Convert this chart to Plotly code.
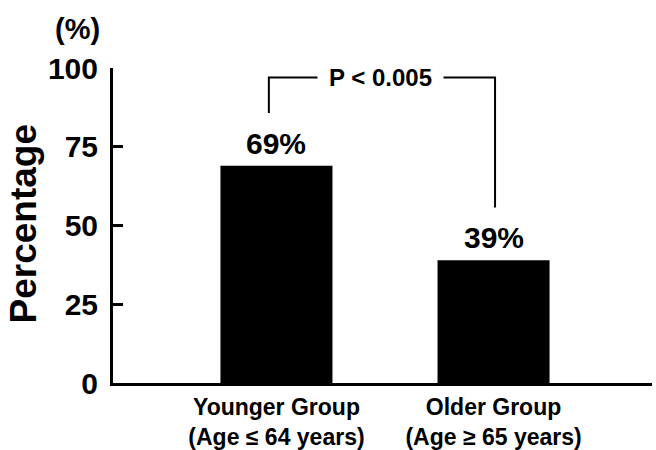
import plotly.graph_objects as go

categories = ["Younger Group<br>(Age ≤ 64 years)", "Older Group<br>(Age ≥ 65 years)"]
values = [69, 39]
value_labels = ["69%", "39%"]
y_ticks = [0, 25, 50, 75, 100]
p_text = "P < 0.005"
bracket_top = 97
bracket_gap = 16.7

FONT = "Liberation Sans, Arial, Helvetica, sans-serif"
xpos = list(range(len(categories)))

fig = go.Figure()
fig.add_trace(go.Bar(x=xpos, y=values, width=0.516, marker=dict(color="black", line=dict(width=0)),
                     hoverinfo="skip"))

for xi, v, t in zip(xpos, values, value_labels):
    fig.add_annotation(x=xi, y=v, xref="x", yref="y", text=f"<b>{t}</b>", showarrow=False,
                       yanchor="bottom", yshift=4, font=dict(family=FONT, size=30, color="black"))

# significance bracket
fig.add_shape(type="path", xref="x", yref="y",
              path=f"M {xpos[0]-0.035},{values[0]+bracket_gap} L {xpos[0]-0.035},{bracket_top} "
                   f"L {xpos[1]+0.007},{bracket_top} L {xpos[1]+0.007},{values[1]+bracket_gap}",
              line=dict(color="black", width=2))
fig.add_annotation(x=(xpos[0] + xpos[1]) / 2 - 0.02, y=bracket_top, xref="x", yref="y",
                   text=f"<b>{p_text}</b>", showarrow=False, bgcolor="white", borderpad=11,
                   font=dict(family=FONT, size=24, color="black"))

fig.add_annotation(x=0, y=50, xref="paper", yref="y", xanchor="center", yanchor="middle",
                   xshift=-90, yshift=2, text="<b>Percentage</b>",
                   textangle=-90, showarrow=False, font=dict(family=FONT, size=37, color="black"))
fig.add_annotation(x=0, y=1, xref="paper", yref="paper", xanchor="center", yanchor="middle",
                   xshift=-36, yshift=39, text="<b>(%)</b>",
                   showarrow=False, font=dict(family=FONT, size=29, color="black"))

fig.update_layout(
    width=656, height=450,
    margin=dict(l=113, r=4, t=68, b=67, autoexpand=False),
    paper_bgcolor="white", plot_bgcolor="white",
    showlegend=False,
    xaxis=dict(range=[-0.753, 1.730], tickvals=xpos, ticktext=[f"<b>{c}</b>" for c in categories],
               showline=True, linecolor="black", linewidth=3, ticks="", showgrid=False, zeroline=False,
               automargin=False, ticklabelstandoff=1,
               tickfont=dict(family=FONT, size=23, color="black"), fixedrange=True),
    yaxis=dict(range=[0, 100], tickvals=y_ticks, ticktext=[f"<b>{t}</b>" for t in y_ticks],
               showline=True, linecolor="black", linewidth=3, ticks="inside", ticklen=10,
               tickwidth=3, tickcolor="black", showgrid=False, zeroline=False,
               ticklabelstandoff=6, automargin=False,
               tickfont=dict(family=FONT, size=30, color="black"), fixedrange=True),
)

fig.write_html("out.html", config={"displayModeBar": False},
               post_script="document.body.style.margin='0';document.body.style.overflow='hidden';")
